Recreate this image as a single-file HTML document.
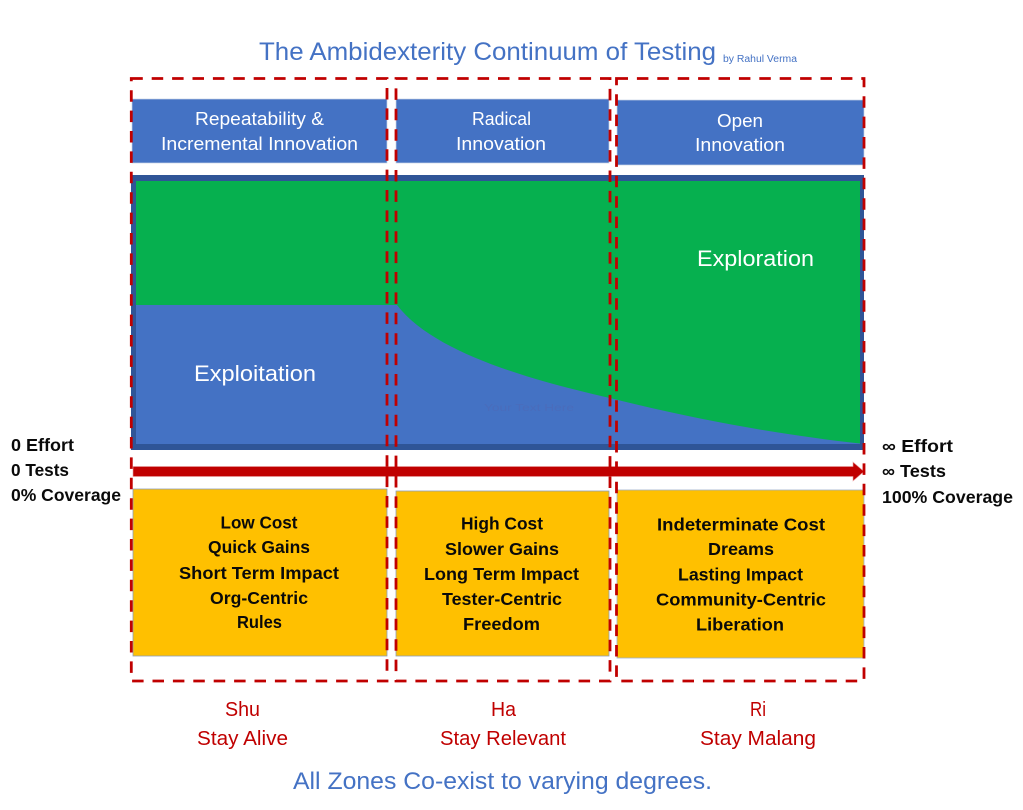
<!DOCTYPE html>
<html><head><meta charset="utf-8"><style>
html,body{margin:0;padding:0;background:#fff;width:1023px;height:810px;overflow:hidden}
svg{display:block}
text{font-family:"Liberation Sans",sans-serif;}
.b{font-weight:bold;font-size:17.5px;fill:#0a0a0a}
.o{font-weight:bold;font-size:17.5px;fill:#0a0a0a}
.w{fill:#fff;font-size:18.5px}
.r{fill:#c00000;font-size:20px}
</style></head><body>
<svg width="1023" height="810" viewBox="0 0 1023 810" xmlns="http://www.w3.org/2000/svg">
<rect width="1023" height="810" fill="#fff"/>

<text x="259" y="60" font-size="25" fill="#4472c4" textLength="457" lengthAdjust="spacingAndGlyphs">The Ambidexterity Continuum of Testing</text>
<text x="723" y="62" font-size="10" fill="#4472c4" textLength="74" lengthAdjust="spacingAndGlyphs">by Rahul Verma</text>

<rect x="132" y="99" width="255" height="64" fill="#4472c4" stroke="#c9d3e6" stroke-width="0.7"/>
<rect x="396" y="99" width="213" height="64" fill="#4472c4" stroke="#c9d3e6" stroke-width="0.7"/>
<rect x="617" y="100" width="247" height="65" fill="#4472c4" stroke="#c9d3e6" stroke-width="0.7"/>

<text class="w" x="195" y="125" textLength="129" lengthAdjust="spacingAndGlyphs">Repeatability &amp;</text>
<text class="w" x="161" y="150" textLength="197" lengthAdjust="spacingAndGlyphs">Incremental Innovation</text>
<text class="w" x="472" y="125" textLength="59" lengthAdjust="spacingAndGlyphs">Radical</text>
<text class="w" x="456" y="150" textLength="90" lengthAdjust="spacingAndGlyphs">Innovation</text>
<text class="w" x="717" y="127" textLength="46" lengthAdjust="spacingAndGlyphs">Open</text>
<text class="w" x="695" y="151" textLength="90" lengthAdjust="spacingAndGlyphs">Innovation</text>

<rect x="131" y="175" width="733" height="275" fill="#2f5597"/>
<rect x="136" y="181" width="724" height="263" fill="#4472c4"/>
<path d="M136,181H860V443.500C790,436 700,421 610,398C540,382 435,355 397,305H136Z" fill="#06b04f"/>

<text x="697" y="266" font-size="22" fill="#fff" textLength="117" lengthAdjust="spacingAndGlyphs">Exploration</text>
<text x="194" y="381" font-size="22" fill="#fff" textLength="122" lengthAdjust="spacingAndGlyphs">Exploitation</text>
<text x="484" y="411" font-size="10.5" fill="#4a6cbb" textLength="90" lengthAdjust="spacingAndGlyphs">Your Text Here</text>

<path d="M133,466.500H853V462L864,471.500L853,481V476.500H133Z" fill="#c00000" stroke="#e8a0a0" stroke-width="0.6"/>

<rect x="133" y="489" width="254" height="167" fill="#ffc000" stroke="#8f9fb8" stroke-width="0.8"/>
<rect x="396" y="491" width="213" height="165" fill="#ffc000" stroke="#8f9fb8" stroke-width="0.8"/>
<rect x="617" y="490" width="247" height="168" fill="#ffc000" stroke="#9fb0cc" stroke-width="0.8"/>

<g class="o">
<text class="o" x="220.500" y="528.500" textLength="77" lengthAdjust="spacingAndGlyphs">Low Cost</text>
<text class="o" x="208" y="553" textLength="102" lengthAdjust="spacingAndGlyphs">Quick Gains</text>
<text class="o" x="179" y="579" textLength="160" lengthAdjust="spacingAndGlyphs">Short Term Impact</text>
<text class="o" x="210" y="604" textLength="98" lengthAdjust="spacingAndGlyphs">Org-Centric</text>
<text class="o" x="237" y="628" textLength="45" lengthAdjust="spacingAndGlyphs">Rules</text>

<text class="o" x="461" y="529.500" textLength="82" lengthAdjust="spacingAndGlyphs">High Cost</text>
<text class="o" x="445" y="555" textLength="114" lengthAdjust="spacingAndGlyphs">Slower Gains</text>
<text class="o" x="424" y="580" textLength="155" lengthAdjust="spacingAndGlyphs">Long Term Impact</text>
<text class="o" x="442" y="605" textLength="120" lengthAdjust="spacingAndGlyphs">Tester-Centric</text>
<text class="o" x="463" y="630" textLength="77" lengthAdjust="spacingAndGlyphs">Freedom</text>

<text class="o" x="657" y="530.500" textLength="168" lengthAdjust="spacingAndGlyphs">Indeterminate Cost</text>
<text class="o" x="708" y="555" textLength="66" lengthAdjust="spacingAndGlyphs">Dreams</text>
<text class="o" x="678" y="580.500" textLength="125" lengthAdjust="spacingAndGlyphs">Lasting Impact</text>
<text class="o" x="656" y="605.500" textLength="170" lengthAdjust="spacingAndGlyphs">Community-Centric</text>
<text class="o" x="696" y="630.500" textLength="88" lengthAdjust="spacingAndGlyphs">Liberation</text>
</g>

<text class="b" x="11" y="451" textLength="63" lengthAdjust="spacingAndGlyphs">0 Effort</text>
<text class="b" x="11" y="476" textLength="58" lengthAdjust="spacingAndGlyphs">0 Tests</text>
<text class="b" x="11" y="501" textLength="110" lengthAdjust="spacingAndGlyphs">0% Coverage</text>
<text class="b" x="882" y="452" textLength="71" lengthAdjust="spacingAndGlyphs">∞ Effort</text>
<text class="b" x="882" y="477" textLength="64" lengthAdjust="spacingAndGlyphs">∞ Tests</text>
<text class="b" x="882" y="503" textLength="131" lengthAdjust="spacingAndGlyphs">100% Coverage</text>

<g fill="none" stroke="#c00000" stroke-width="2.800" stroke-dasharray="11.500 8.900">
<rect x="131.300" y="78.500" width="255.700" height="602.500"/>
<rect x="396" y="78.500" width="214" height="602.500"/>
<rect x="616.500" y="78.500" width="247.500" height="602.500"/>
</g>

<text class="r" x="225" y="716" textLength="35" lengthAdjust="spacingAndGlyphs">Shu</text>
<text class="r" x="197" y="745" textLength="91" lengthAdjust="spacingAndGlyphs">Stay Alive</text>
<text class="r" x="491" y="716" textLength="25" lengthAdjust="spacingAndGlyphs">Ha</text>
<text class="r" x="440" y="745" textLength="126" lengthAdjust="spacingAndGlyphs">Stay Relevant</text>
<text class="r" x="750" y="716" textLength="16" lengthAdjust="spacingAndGlyphs">Ri</text>
<text class="r" x="700" y="745" textLength="116" lengthAdjust="spacingAndGlyphs">Stay Malang</text>

<text x="293" y="789" font-size="24" fill="#4472c4" textLength="419" lengthAdjust="spacingAndGlyphs">All Zones Co-exist to varying degrees.</text>
</svg>
</body></html>
